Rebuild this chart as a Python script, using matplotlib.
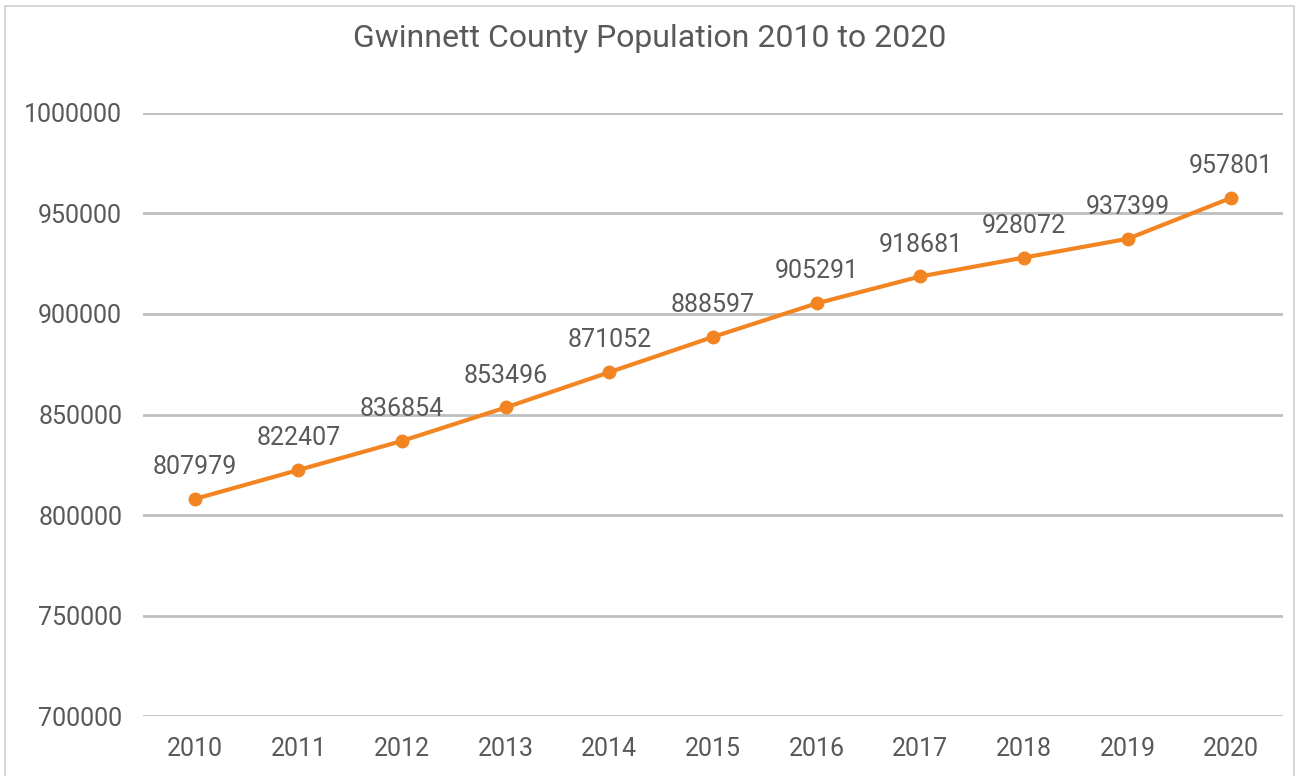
import matplotlib.pyplot as plt
from matplotlib.patches import Rectangle

plt.rcParams['font.family'] = ['Roboto', 'DejaVu Sans']

# data
years = ['2010', '2011', '2012', '2013', '2014', '2015',
         '2016', '2017', '2018', '2019', '2020']
population = [807979, 822407, 836854, 853496, 871052, 888597,
              905291, 918681, 928072, 937399, 957801]
y_ticks = [700000, 750000, 800000, 850000, 900000, 950000, 1000000]

text_color = '#595959'
grid_color = '#BFBFBF'
line_color = '#F28522'

fig = plt.figure(figsize=(13, 7.76), dpi=100)
ax = fig.add_axes([0.110, 0.0773, 0.877, 0.7771])

x = list(range(len(years)))
ax.plot(x, population, color=line_color, linewidth=3, marker='o',
        markersize=9, zorder=3)

# data labels above each point
for xi, val in zip(x, population):
    ax.annotate(str(val), (xi, val), xytext=(0, 23), textcoords='offset points',
                ha='center', va='center', fontsize=18, color=text_color)

ax.set_xlim(-0.5, len(years) - 0.5)
ax.set_ylim(700000, 1000000)
ax.set_xticks(x)
ax.set_xticklabels(years)
ax.set_yticks(y_ticks)
ax.set_yticklabels([str(t) for t in y_ticks])
ax.tick_params(axis='both', length=0, labelsize=18, labelcolor=text_color)
ax.tick_params(axis='x', pad=15)
ax.tick_params(axis='y', pad=15)

ax.grid(axis='y', color=grid_color, linewidth=2)
ax.set_axisbelow(True)
for s in ax.spines.values():
    s.set_visible(False)

fig.text(0.5, 0.951, 'Gwinnett County Population 2010 to 2020',
         ha='center', va='center', fontsize=23, color=text_color)

# light border around the chart
fig.patches.append(Rectangle((5 / 1300, -0.01), 1289 / 1300, 1 - 6 / 776 + 0.01,
                             transform=fig.transFigure, fill=False,
                             edgecolor='#D0D0D0', linewidth=1.2))

fig.savefig('out.png', dpi=100)
